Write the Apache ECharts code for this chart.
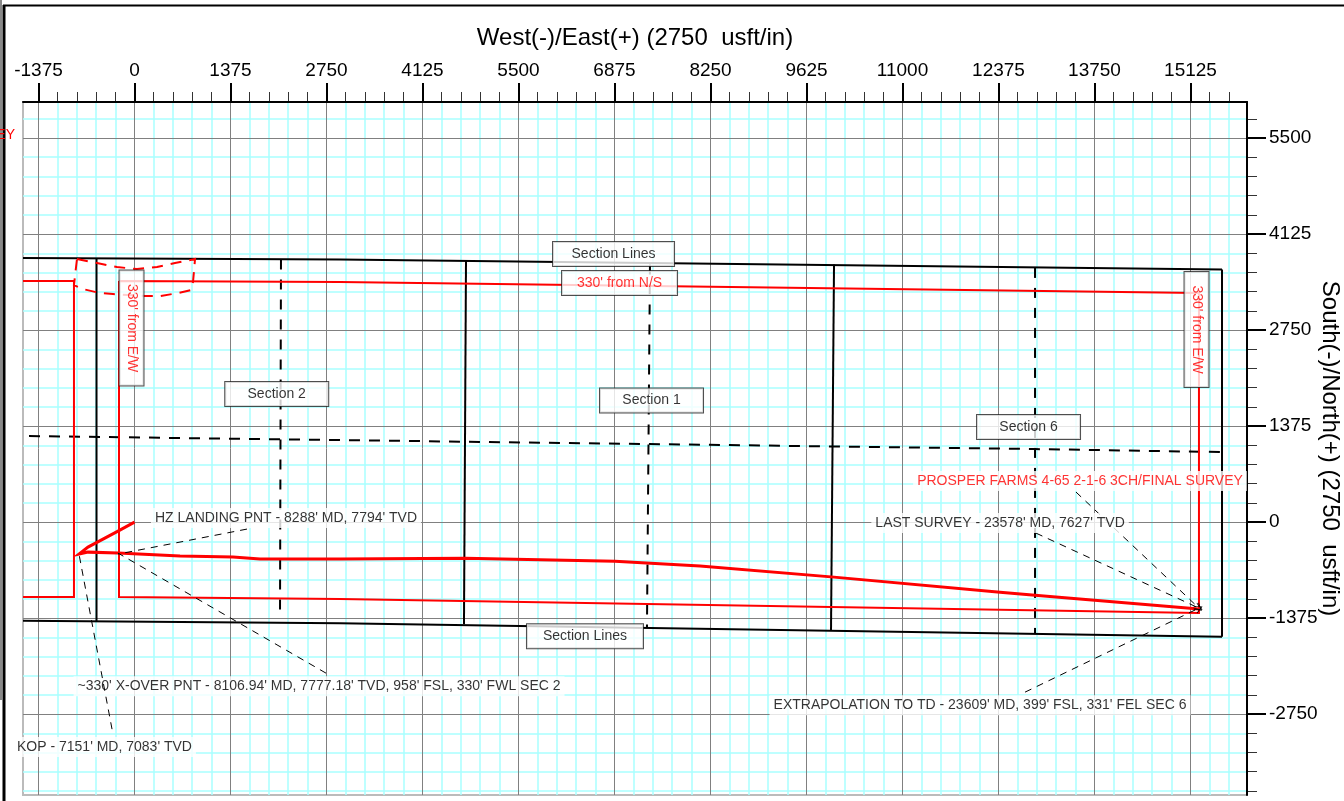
<!DOCTYPE html>
<html>
<head>
<meta charset="utf-8">
<style>
  html, body { margin: 0; padding: 0; background: #fff; }
  #main { width: 1344px; height: 801px; }
</style>
<script src="https://cdn.jsdelivr.net/npm/echarts@6/dist/echarts.min.js"></script>
</head>
<body>
<div id="main"></div>
<script>
var myChart = echarts.init(document.getElementById('main'));

// Axis ticks (usft)
const xMajorTicks = [-1375, 0, 1375, 2750, 4125, 5500, 6875, 8250, 9625, 11000, 12375, 13750, 15125];
const yMajorTicks = [-2750, -1375, 0, 1375, 2750, 4125, 5500];
const xMinorTicks = [-1100, -825, -550, -275, 275, 550, 825, 1100, 1650, 1925, 2200, 2475, 3025, 3300, 3575, 3850, 4400, 4675, 4950, 5225, 5775, 6050, 6325, 6600, 7150, 7425, 7700, 7975, 8525, 8800, 9075, 9350, 9900, 10175, 10450, 10725, 11275, 11550, 11825, 12100, 12650, 12925, 13200, 13475, 14025, 14300, 14575, 14850, 15400, 15675];
const yMinorTicks = [-3850, -3575, -3300, -3025, -2475, -2200, -1925, -1650, -1100, -825, -550, -275, 275, 550, 825, 1100, 1650, 1925, 2200, 2475, 3025, 3300, 3575, 3850, 4400, 4675, 4950, 5225, 5775];

// Section lines (x, y in usft)
const sectionTop = [[-1597, 3781], [2943, 3760], [15576, 3617]];
const sectionBottom = [[-1597, -1411], [2943, -1447], [15576, -1643]];
const sectionWest = [[-544, 3775], [-544, -1420]];
const sectionMid1 = [[4748, 3745], [4719, -1461]];
const sectionMid2 = [[10019, 3690], [9976, -1547]];
const sectionEast = [[15576, 3617], [15576, -1643]];
const dashMid1 = [[2098, 3760], [2084, -1332]];
const dashMid2 = [[7383, 3690], [7340, -1504]];
const dashMid3 = [[12898, 3640], [12898, -1590]];
const dashEastWest = [[-1511, 1232], [12898, 1046], [15576, 1003]];

// Hardlines
const hardlineWest = [[-1597, 3452], [-867, 3452], [-867, -1074], [-1597, -1074]];
const hardlineMain = [[-222, 3452], [2943, 3438], [15246, 3280], [15246, -1303], [2943, -1100], [-222, -1074], [-222, 3452]];
const leaseBox = [[-824, 3767], [-537, 3710], [-251, 3652], [36, 3624], [322, 3652], [580, 3710], [867, 3767], [838, 3438], [809, 3323], [623, 3280], [365, 3237], [150, 3237], [-308, 3266], [-494, 3280], [-738, 3337], [-867, 3394], [-824, 3767]];

// Wellbore
const wellbore = [[0, 0], [-236, -129], [-666, -358], [-795, -458], [-666, -430], [-236, -444], [652, -487], [1411, -501], [1798, -530], [2084, -530], [2943, -530], [4734, -516], [6882, -559], [8100, -630], [10019, -788], [12397, -1003], [12898, -1046], [15246, -1246]];

// Leader lines
const leaderKop = [[-322, -2965], [-795, -458]];
const leaderXover = [[2743, -2163], [-236, -444]];
const leaderLanding = [[1611, -100], [-236, -458]];
const leaderLast = [[12912, -158], [15246, -1232]];
const leaderProsper = [[13485, 430], [15246, -1232]];
const leaderTd = [[12755, -2435], [15246, -1232]];

// Boxed labels
const boxNames = ['Section Lines', "330' from N/S", 'Section 1', 'Section 2', 'Section 6', 'Section Lines', "330' from E/W", "330' from E/W"];
const boxPoints = [[6861, 3839], [6947, 3423], [7405, 1740], [2037, 1833], [12805, 1361], [6452, -1633], [-43, 2779], [15211, 2757]];

// Callouts
const calloutNames = ["HZ LANDING PNT - 8288' MD, 7794' TVD", "LAST SURVEY - 23578' MD, 7627' TVD", 'PROSPER FARMS 4-65 2-1-6 3CH/FINAL SURVEY', "~330' X-OVER PNT - 8106.94' MD, 7777.18' TVD, 958' FSL, 330' FWL SEC 2", "EXTRAPOLATION TO TD - 23609' MD, 399' FSL, 331' FEL SEC 6", "KOP - 7151' MD, 7083' TVD"];
const calloutPoints = [[2170, 58], [12397, -14], [13542, 588], [2643, -2349], [12110, -2621], [-430, -3222]];

const FONT = '"Liberation Sans", Arial, sans-serif';
const RED = '#ff0000';
const openArrow = 'path://M5,0 L0,10 L1,10 L5,2 L9,10 L10,10 Z';

const xRange = { min: -1597, max: 15934 };
const yRange = { min: -3908, max: 6016 };

function minorAxis(ticks, range, position) {
    return Object.assign({}, range, {
        type: 'value',
        position: position,
        z: 0,
        axisLine: { show: false, onZero: false },
        axisLabel: { show: false },
        axisTick: { show: true, customValues: ticks, length: 10, lineStyle: { color: '#333', width: 1 } },
        splitLine: { show: true, lineStyle: { color: '#a8ffff', width: 1.5 } }
    });
}

function majorAxis(ticks, range, position, name, nameGap, nameRotate) {
    return Object.assign({}, range, {
        type: 'value',
        position: position,
        z: 1,
        name: name,
        nameLocation: 'middle',
        nameGap: nameGap,
        nameRotate: nameRotate,
        nameMoveOverlap: false,
        nameTextStyle: { fontFamily: FONT, fontSize: 24, color: '#000' },
        axisLine: { show: true, onZero: false, lineStyle: { color: '#000', width: 2 } },
        axisTick: { show: true, customValues: ticks, length: 19, lineStyle: { color: '#000', width: 2 } },
        axisLabel: { show: true, customValues: ticks, margin: 22, padding: [2, 0, 0, 0], fontFamily: FONT, fontSize: 19, color: '#000', formatter: v => String(v) },
        splitLine: { show: true, lineStyle: { color: '#808080', width: 1 } }
    });
}

function lineSeries(name, data, color, width, dash, z) {
    return {
        name: name,
        type: 'line',
        data: data,
        z: z || 3,
        symbol: 'none',
        smooth: false,
        lineStyle: { color: color, width: width, type: dash || 'solid', cap: 'butt', join: 'miter' }
    };
}

function leaderPairs(list) {
    return list.map(l => [{ coord: l[0] }, { coord: l[1] }]);
}

var option = {
    animation: false,
    backgroundColor: '#fff',
    grid: { left: 23, right: 97, top: 102, bottom: 6, show: true, borderColor: '#bbbbbb', borderWidth: 2, backgroundColor: '#fff', outerBoundsMode: 'none' },
    xAxis: [
        minorAxis(xMinorTicks, xRange, 'top'),
        majorAxis(xMajorTicks, xRange, 'top', 'West(-)/East(+) (2750  usft/in)', 52, 0)
    ],
    yAxis: [
        minorAxis(yMinorTicks, yRange, 'right'),
        majorAxis(yMajorTicks, yRange, 'right', 'South(-)/North(+) (2750  usft/in)', 71, -90)
    ],
    series: [
        lineSeries('Section Top', sectionTop, '#000', 2),
        lineSeries('Section Bottom', sectionBottom, '#000', 2),
        lineSeries('Section West', sectionWest, '#000', 2),
        lineSeries('Section 2|1', sectionMid1, '#000', 2),
        lineSeries('Section 1|6', sectionMid2, '#000', 2),
        lineSeries('Section East', sectionEast, '#000', 2),
        lineSeries('Half Section 2', dashMid1, '#000', 2, [10, 10]),
        lineSeries('Half Section 1', dashMid2, '#000', 2, [10, 10]),
        lineSeries('Half Section 6', dashMid3, '#000', 2, [10, 10]),
        lineSeries('Half Section EW', dashEastWest, '#000', 2, [11, 9]),
        lineSeries('Hardline West', hardlineWest, RED, 2),
        lineSeries('Hardline', hardlineMain, RED, 2),
        lineSeries('Lease Box', leaseBox, RED, 2, [11, 8]),
        lineSeries('Wellbore', wellbore, RED, 3, null, 4),
        {
            name: 'Leaders',
            type: 'line',
            data: [],
            markLine: {
                silent: true,
                animation: false,
                z: 5,
                symbol: ['none', openArrow],
                symbolSize: 8,
                label: { show: false },
                lineStyle: { color: '#000', width: 1, type: [7, 6] },
                data: leaderPairs([leaderLast, leaderProsper, leaderTd])
            }
        },
        {
            name: 'Leaders Left',
            type: 'line',
            data: [],
            markLine: {
                silent: true,
                animation: false,
                z: 5,
                symbol: ['none', 'none'],
                label: { show: false },
                lineStyle: { color: '#000', width: 1, type: [7, 6] },
                data: leaderPairs([leaderXover, leaderLanding])
            }
        },
        {
            name: 'Callouts',
            type: 'scatter',
            z: 10,
            symbolSize: 0,
            data: calloutPoints.map((p, i) => ({
                value: p,
                name: calloutNames[i],
                label: {
                    show: true,
                    position: 'inside',
                    formatter: '{b}',
                    fontFamily: FONT,
                    fontSize: 14,
                    color: i === 2 ? RED : '#000',
                    backgroundColor: '#fff',
                    padding: [3, 4]
                }
            }))
        },
        {
            name: 'Boxes',
            type: 'scatter',
            z: 11,
            symbolSize: 0,
            data: boxPoints.map((p, i) => ({
                value: p,
                name: boxNames[i],
                label: {
                    show: true,
                    position: 'inside',
                    formatter: '{b}',
                    fontFamily: FONT,
                    fontSize: 14,
                    color: boxNames[i].charAt(0) === '3' ? RED : '#000',
                    backgroundColor: '#fff',
                    borderColor: '#222',
                    borderWidth: 1,
                    align: 'center',
                    verticalAlign: 'middle',
                    width: [121, 115, 103, 103, 103, 116, 115, 115][i],
                    height: 24,
                    lineHeight: 24,
                    rotate: i >= 6 ? -90 : 0
                }
            }))
        },
        {
            name: 'KOP Leader',
            type: 'line',
            data: [],
            markLine: {
                silent: true,
                animation: false,
                z: 12,
                symbol: ['none', 'none'],
                label: { show: false },
                lineStyle: { color: '#000', width: 1, type: [7, 6] },
                data: leaderPairs([leaderKop])
            }
        }
    ],
    graphic: [
        { type: 'line', silent: true, z: 20, shape: { x1: 4, y1: 5, x2: 4, y2: 801 }, style: { stroke: '#000', lineWidth: 3 } },
        { type: 'line', silent: true, z: 20, shape: { x1: 3, y1: 5.5, x2: 1344, y2: 5.5 }, style: { stroke: '#000', lineWidth: 2 } },
        { type: 'line', silent: true, z: 20, shape: { x1: 1, y1: 0, x2: 1, y2: 700 }, style: { stroke: '#888', lineWidth: 2 } },
        { type: 'text', silent: true, z: 20, style: { x: 15, y: 135, text: 'SURVEY', align: 'right', verticalAlign: 'middle', fill: RED, font: '14px ' + FONT } }
    ]
};

myChart.setOption(option);
</script>
</body>
</html>
